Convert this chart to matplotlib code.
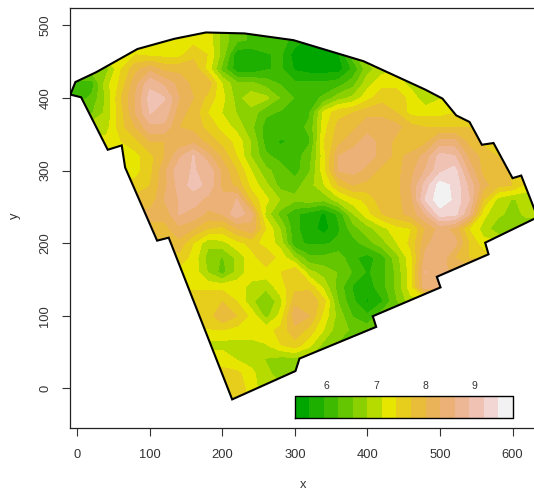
"""Kriged surface inside a survey polygon, with a terrain-colour scale strip."""
import colorsys

import matplotlib

matplotlib.use("Agg")
import matplotlib.pyplot as plt
import numpy as np
from matplotlib.patches import Polygon

plt.rcParams["font.family"] = ["Liberation Sans", "DejaVu Sans"]

W, H = 534, 490
TEXT = "#333333"

grid_x = list(range(0, 640, 20))
grid_y = list(range(500, -40, -20))

# surface values, one row per grid_y
z_rows = [
    [7.3] * 10 + [6.7, 6.3, 6.2, 6.2, 6.1, 5.8, 5.6, 5.6, 6.0, 6.4] + [7.0] * 12,
    [7.3] * 10 + [6.7, 6.3, 6.2, 6.2, 6.1, 5.8, 5.6, 5.6, 6.0, 6.4] + [7.0] * 12,
    [7.3] * 4 + [7.4, 7.3, 7.3, 7.3, 7.6, 7.4, 6.7, 5.75, 5.75, 5.9, 6.0, 5.5, 5.5, 5.5, 5.6, 6.4] + [7.0] * 12,
    [6.7, 6.7, 6.7, 7.4, 7.9, 8.2, 7.9, 7.9, 7.9, 7.3, 6.4, 5.75, 5.7, 5.9, 6.0, 5.6, 5.5, 5.5, 5.5, 6.0, 6.7, 7.0] + [7.1] * 10,
    [6.1, 6.1, 7.0, 7.5, 8.2, 8.8, 8.5, 8.2, 7.9, 7.9, 7.1, 6.6, 6.6, 6.4, 6.2, 6.0, 6.0, 6.0, 6.1, 6.4, 7.0, 7.3, 7.3, 7.0, 7.0, 7.0] + [7.0] * 6,
    [6.1, 6.3, 6.9, 7.7, 8.3, 9.0, 8.9, 8.3, 8.0, 7.6, 7.2, 6.7, 7.0, 6.9, 6.5, 6.2, 6.1, 6.3, 6.7, 6.9, 7.3, 7.6, 7.6, 7.3, 6.9, 7.1] + [7.2] * 6,
    [6.5, 6.5, 6.9, 7.6, 8.3, 8.9, 8.8, 8.1, 7.9, 7.4, 7.1, 6.8, 6.7, 6.3, 6.2, 6.1, 6.2, 7.2, 7.6, 7.7, 7.9, 7.9, 7.7, 7.3, 7.3, 7.3, 7.4] + [7.5] * 5,
    [7.0, 7.0, 7.0, 7.6, 8.0, 8.5, 8.5, 8.0, 7.9, 7.6, 7.3, 7.0, 6.6, 6.1, 6.1, 6.1, 6.3, 7.3, 7.8, 7.9, 8.2, 8.2, 8.1, 7.8, 7.7, 7.7, 7.7, 7.7] + [7.7] * 4,
    [7.2, 7.2, 7.2, 7.4, 7.6, 8.0, 8.0, 8.1, 8.2, 7.9, 7.6, 7.3, 6.8, 6.1, 5.9, 6.0, 6.2, 7.4, 7.9, 8.2, 8.4, 8.2, 7.9, 7.7, 7.9, 8.4, 8.4, 7.9, 7.6] + [7.6] * 3,
    [7.3, 7.3, 7.3, 7.3, 7.3, 7.6, 8.0, 8.5, 8.9, 8.4, 7.9, 7.4, 6.8, 6.3, 6.1, 6.1, 6.4, 7.3, 8.3, 8.4, 8.4, 8.2, 7.9, 8.1, 8.4, 9.0, 8.9, 8.2, 7.9, 7.7, 7.7, 7.7],
    [7.3] * 4 + [7.3, 7.6, 8.2, 8.8, 8.9, 8.8, 8.2, 7.7, 7.1, 6.6, 6.4, 6.1, 6.5, 7.3, 8.3, 8.4, 8.2, 7.9, 7.9, 8.2, 8.6, 9.1, 9.3, 8.5, 7.9, 7.9, 7.6, 7.6],
    [7.5] * 4 + [7.5, 7.7, 8.2, 8.7, 9.0, 8.8, 8.2, 7.9, 7.3, 6.9, 6.4, 6.4, 6.7, 7.1, 7.7, 8.0, 7.9, 7.9, 7.9, 8.3, 9.0, 9.6, 9.4, 8.8, 8.1, 7.8, 7.7, 7.3],
    [7.8] * 5 + [7.8, 8.3, 8.6, 8.7, 8.5, 8.4, 8.6, 7.6, 7.2, 6.8, 6.6, 6.7, 6.6, 7.0, 7.3, 7.5, 7.9, 7.9, 8.2, 9.2, 9.7, 9.4, 8.9, 7.7, 7.0, 6.8, 6.9],
    [8.1] * 6 + [8.1, 8.6, 8.5, 8.2, 8.3, 8.8, 8.4, 7.0, 6.4, 6.0, 5.8, 5.6, 6.0, 6.8, 7.3, 7.7, 7.9, 8.1, 8.6, 9.3, 9.3, 8.6, 7.2, 6.9, 6.7, 6.9],
    [7.9] * 6 + [7.9, 8.2, 8.0, 7.7, 7.6, 8.0, 8.2, 7.4, 6.8, 6.0, 5.8, 5.5, 5.9, 6.4, 6.7, 7.0, 7.3, 7.4, 8.0, 8.4, 8.2, 7.4, 7.0, 6.6, 6.6, 6.6],
    [7.9] * 7 + [7.9, 7.4, 6.9, 7.0, 7.3, 7.5, 7.3, 7.0, 6.0, 5.9, 5.9, 6.0, 6.1, 6.4, 6.7, 7.1, 7.5, 8.2, 8.5, 8.4, 7.7, 7.2, 7.2, 7.2, 7.2],
    [7.6] * 8 + [7.3, 6.7, 6.5, 6.9, 7.3, 7.6, 7.3, 6.8, 6.3, 6.3, 6.4, 6.0, 5.8, 6.1, 6.7, 7.3, 8.4, 8.5, 8.0, 7.7, 7.6, 7.6, 7.6, 7.6],
    [7.3] * 8 + [7.3, 6.8, 6.4, 6.9, 7.3, 7.3, 7.4, 7.7, 6.9, 6.7, 6.5, 6.2, 5.9, 6.1, 6.6, 7.3, 8.6, 8.4, 8.2] + [8.2] * 5,
    [7.3] * 8 + [7.3, 7.3, 7.3, 7.3, 7.0, 6.9, 7.3, 7.6, 7.6, 7.0, 6.4, 5.9, 5.8, 6.1, 6.6, 7.3, 8.5] + [8.5] * 7,
    [7.7] * 9 + [7.7, 7.7, 7.4, 6.9, 6.5, 7.0, 7.9, 8.0, 7.5, 6.5, 6.0, 5.6, 5.9, 6.5, 7.0] + [7.0] * 8,
    [7.5] * 9 + [7.5, 8.0, 7.7, 7.3, 6.7, 7.2, 8.2, 8.0, 7.3, 6.7, 6.2, 6.0, 6.4] + [6.4] * 10,
    [7.4] * 10 + [7.4, 7.3, 7.3, 7.3, 7.5, 7.9, 7.6, 7.1, 6.6, 6.5, 6.4] + [6.4] * 11,
    [7.0] * 10 + [7.0, 7.0, 7.0, 7.1, 7.4, 7.6, 7.2, 6.7, 6.5] + [6.5] * 13,
    [7.3] * 10 + [7.3, 7.1, 7.0, 6.8, 6.7, 6.7] + [6.7] * 16,
    [7.5] * 11 + [7.5, 7.2, 6.9, 6.7, 6.7] + [6.7] * 16,
    [7.7] * 11 + [7.7, 7.2, 7.0, 6.9, 6.8] + [6.8] * 16,
    [7.7] * 11 + [7.7, 7.3, 7.0, 6.9, 6.8] + [6.8] * 16,
]

outline_x = [-9.7, -2.8, 25.8, 82.8, 133.8, 177.2, 230.3, 297.9, 394.5, 479.6, 503.4,
             522.3, 540.7, 557.7, 573.8, 600.0, 612.0, 634.5, 562.3, 566.9, 495.6,
             500.7, 407.3, 412.0, 306.2, 300.7, 213.4, 125.9, 109.9, 65.8, 61.1, 41.8, 5.1]
outline_y = [404.7, 422.0, 435.5, 467.5, 481.6, 490.3, 489.0, 479.7, 450.7, 411.6, 399.2,
             376.1, 367.0, 335.6, 338.0, 289.6, 293.2, 235.8, 200.7, 184.7, 153.7,
             139.1, 99.4, 84.7, 41.0, 23.9, -15.2, 207.6, 203.5, 304.3, 334.7, 328.7, 401.0]

scale_ticks = [6, 7, 8, 9]
x_ticks = [0, 100, 200, 300, 400, 500, 600]
y_ticks = [0, 100, 200, 300, 400, 500]
Z_MIN, Z_MAX = 5.353, 9.765
N_COLORS = 15


def terrain_colors(n):
    # same ramp as R's terrain.colors()
    k = n // 2
    h = np.r_[np.linspace(4 / 12, 2 / 12, k), np.linspace(2 / 12, 0, n - k + 1)[1:]]
    s = np.r_[np.linspace(1, 1, k), np.linspace(1, 0, n - k + 1)[1:]]
    v = np.r_[np.linspace(0.65, 0.9, k), np.linspace(0.9, 0.95, n - k + 1)[1:]]
    return [colorsys.hsv_to_rgb(*c) for c in zip(h, s, v)]


def main():
    fig = plt.figure(figsize=(W / 100, H / 100), dpi=100)
    ax = fig.add_axes([69.5 / W, 1 - 428 / H, (W - 69.5) / W, 420 / H])
    ax.set_xlim(-10.9, 629.6)
    ax.set_ylim(-54.6, 524)

    levels = np.linspace(Z_MIN, Z_MAX, N_COLORS + 1)
    colors = terrain_colors(N_COLORS)

    region = Polygon(np.column_stack([outline_x, outline_y]), closed=True, fill=False,
                     edgecolor="black", lw=1.5, zorder=3, joinstyle="miter")
    ax.add_patch(region)
    # repeat the outer columns so the surface reaches the polygon tips at both sides
    xs = [grid_x[0] - 20] + grid_x + [grid_x[-1] + 20]
    z = np.pad(np.array(z_rows), ((0, 0), (1, 1)), mode="edge")
    cs = ax.contourf(xs, grid_y, z, levels=levels, colors=colors, extend="both", zorder=2)
    cs.set_clip_path(region)

    # colour scale strip in the lower right corner
    strip_x = np.linspace(300, 600, N_COLORS + 1)
    ax.pcolormesh(strip_x, [-41.5, -10.5], [np.arange(N_COLORS)],
                  cmap=matplotlib.colors.ListedColormap(colors), zorder=2)
    ax.plot([300, 600, 600, 300, 300], [-41.5, -41.5, -10.5, -10.5, -41.5],
            color="black", lw=1, zorder=3)
    for t in scale_ticks:
        ax.text(300 + 300 * (t - Z_MIN) / (Z_MAX - Z_MIN), 3.5, str(t), ha="center",
                va="center", fontsize=7.5, color=TEXT)

    ax.spines["right"].set_visible(False)
    for s in ("left", "bottom", "top"):
        ax.spines[s].set_linewidth(0.9)
        ax.spines[s].set_color("#222222")
    ax.set_xticks(x_ticks)
    ax.set_yticks(y_ticks)
    ax.tick_params(axis="both", length=6, width=0.8, color="#333333",
                   labelsize=9.3, labelcolor=TEXT)
    ax.tick_params(axis="x", pad=9)
    ax.tick_params(axis="y", pad=7)
    plt.setp(ax.get_yticklabels(), rotation=90, va="center")

    fig.text(303 / W, 1 - 484.5 / H, "x", ha="center", va="center", fontsize=9.3, color=TEXT)
    fig.text(15 / W, 1 - 216 / H, "y", ha="center", va="center", rotation=90,
             fontsize=9.3, color=TEXT)

    fig.savefig("out.png", dpi=100)


main()
